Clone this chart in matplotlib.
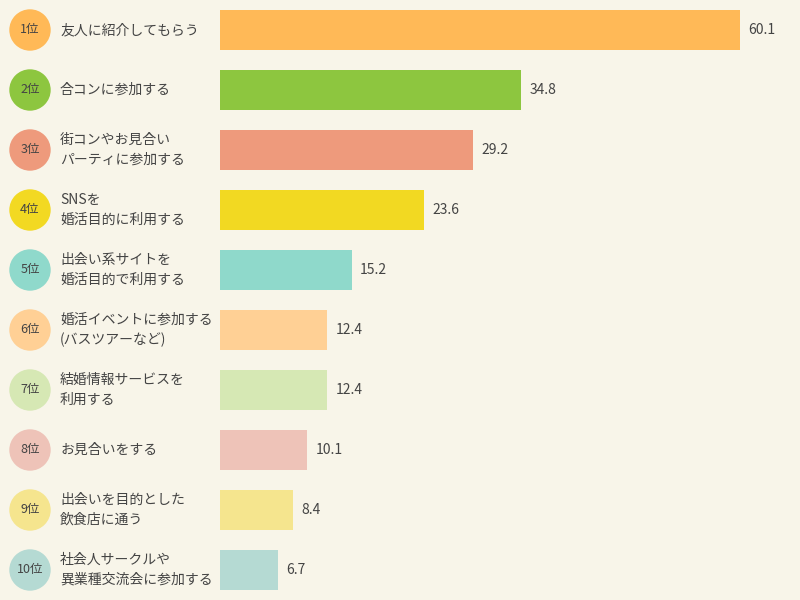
import matplotlib
matplotlib.use("Agg")
import matplotlib.pyplot as plt
from matplotlib.patches import Circle

plt.rcParams['font.family'] = ['Noto Sans CJK JP', 'DejaVu Sans']

ranks = ["1", "2", "3", "4", "5", "6", "7", "8", "9", "10"]
labels = ["友人に紹介してもらう", "合コンに参加する", "街コンやお見合い\nパーティに参加する",
          "SNSを\n婚活目的に利用する", "出会い系サイトを\n婚活目的で利用する",
          "婚活イベントに参加する\n(バスツアーなど)", "結婚情報サービスを\n利用する",
          "お見合いをする", "出会いを目的とした\n飲食店に通う", "社会人サークルや\n異業種交流会に参加する"]
values = [60.1, 34.8, 29.2, 23.6, 15.2, 12.4, 12.4, 10.1, 8.4, 6.7]
colors = ["#FFB957", "#8DC63F", "#EE9A7C", "#F2D922", "#8FD9CB",
          "#FFD095", "#D6E8B4", "#EEC3B8", "#F5E58E", "#B5DAD3"]

bg = "#F8F5E9"
tc = "#444444"
fig = plt.figure(figsize=(8, 6), dpi=100, facecolor=bg)

# overlay axes in pixel coords
ov = fig.add_axes([0, 0, 1, 1])
ov.set_xlim(0, 800); ov.set_ylim(600, 0); ov.axis('off')
ov.set_facecolor('none')

ax = fig.add_axes([220/800, 0, 580/800, 1])
ax.set_facecolor('none')
ax.set_xlim(0, 60.1 * 580 / 520)
ax.set_ylim(9.5 + 0.5, -0.5 - 0.0)
ax.set_ylim(len(values) - 0.5, -0.5)
ax.axis('off')
ypos = list(range(len(values)))
ax.barh(ypos, values, height=40/60, color=colors)
for y, v in zip(ypos, values):
    ax.text(v + 1.0, y, f"{v:.1f}", ha='left', va='center', fontsize=10, color=tc)

for i, (r, lab, c) in enumerate(zip(ranks, labels, colors)):
    cy = 30 + 60 * i
    ov.add_patch(Circle((30, cy), 20, color=c, zorder=1))
    ov.text(30, cy, r + "位", ha='center', va='center', fontsize=9, color=tc, zorder=2)
    ov.text(60, cy, lab, ha='left', va='center', fontsize=10, color=tc, linespacing=1.5)

fig.savefig("out.png", dpi=100, facecolor=bg)
